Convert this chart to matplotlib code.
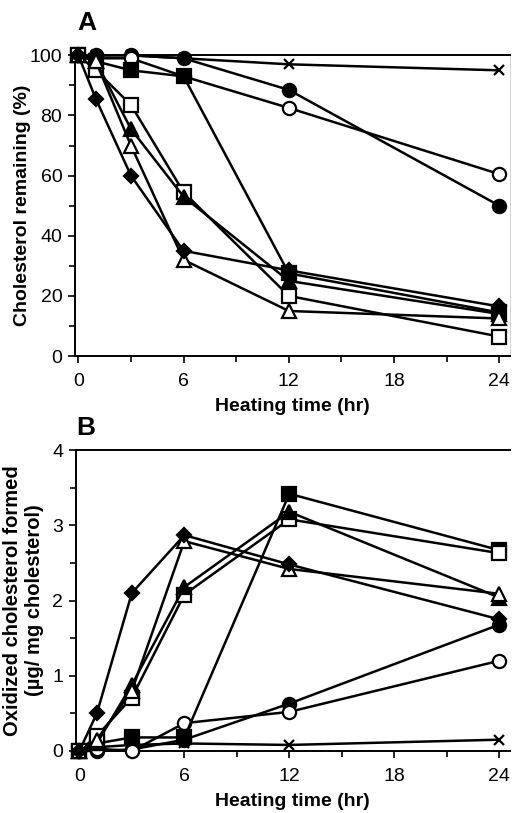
import matplotlib
matplotlib.use('Agg')
import matplotlib.pyplot as plt
from matplotlib.ticker import MultipleLocator

plt.rcParams['font.family'] = ['Liberation Sans', 'DejaVu Sans']

# heating times (hr)
hours = [0, 1, 3, 6, 12, 24]

# Panel A: cholesterol remaining (%)
a_cross = [100, 100, 100, 99, 97, 95]
a_fcircle = [100, 100, 100, 99, 88.5, 50]
a_ocircle = [100, 99, 99, 93, 82.5, 60.5]
a_fsquare = [100, 98, 95, 93, 27.5, 14.5]
a_osquare = [100, 95, 83.5, 54.5, 20, 6.5]
a_ftri = [100, 98, 75.5, 53, 25, 14]
a_otri = [100, 98, 70, 32, 15, 12.5]
a_fdiam = [100, 85.5, 60, 35, 28.5, 16.5]

# Panel B: oxidized cholesterol formed (ug / mg cholesterol)
b_cross = [0, 0.05, 0.08, 0.1, 0.08, 0.15]
b_fcircle = [0, 0, 0.02, 0.15, 0.63, 1.68]
b_ocircle = [0, 0.03, 0, 0.37, 0.52, 1.2]
b_fsquare = [0, 0.1, 0.18, 0.18, 3.42, 2.67]
b_osquare = [0, 0.2, 0.71, 2.08, 3.08, 2.63]
b_ftri = [0, 0.1, 0.88, 2.18, 3.18, 2.04]
b_otri = [0, 0.15, 0.8, 2.79, 2.42, 2.09]
b_fdiam = [0, 0.5, 2.1, 2.87, 2.48, 1.75]

# marker, fill, size for each series
styles = [('x', 'k', 6.5), ('o', 'k', 9.5), ('o', 'w', 9.5), ('s', 'k', 9.5),
          ('s', 'w', 9.5), ('^', 'k', 10.5), ('^', 'w', 10.5), ('D', 'k', 7)]

fig = plt.figure(figsize=(5.16, 8.13), dpi=100)
axA = fig.add_axes([0.145, 0.562, 0.843, 0.370])
axB = fig.add_axes([0.147, 0.0763, 0.841, 0.370])

seriesA = [a_cross, a_fcircle, a_ocircle, a_fsquare, a_osquare, a_ftri, a_otri, a_fdiam]
seriesB = [b_cross, b_fcircle, b_ocircle, b_fsquare, b_osquare, b_ftri, b_otri, b_fdiam]


def draw(ax, series):
    for vals, (m, fc, ms) in zip(series, styles):
        ax.plot(hours, vals, color='k', lw=1.8, marker=m, markersize=ms,
                markerfacecolor=fc, markeredgecolor='k', markeredgewidth=1.6,
                clip_on=False, zorder=3)
    ax.set_xlim(-0.2, 24.6)
    ax.xaxis.set_major_locator(MultipleLocator(6))
    ax.xaxis.set_minor_locator(MultipleLocator(3))
    for s in ['left', 'bottom', 'top']:
        ax.spines[s].set_linewidth(1.4)
    ax.tick_params(which='both', direction='out', width=1.2, labelsize=14, pad=4)
    ax.tick_params(axis='x', pad=7)
    ax.tick_params(which='major', length=5)
    ax.tick_params(which='minor', length=4)
    ax.set_xlabel('Heating time (hr)', fontsize=14, fontweight='bold', labelpad=6)


draw(axA, seriesA)
axA.spines['right'].set_color('#cccccc')
axA.spines['right'].set_linewidth(0.6)
axA.set_ylim(0, 100)
axA.yaxis.set_major_locator(MultipleLocator(20))
axA.yaxis.set_minor_locator(MultipleLocator(10))
axA.set_ylabel('Cholesterol remaining (%)', fontsize=14, fontweight='bold', labelpad=-1)
fig.text(0.149, 0.963, 'A', fontsize=19, fontweight='bold', ha='left', va='baseline')

draw(axB, seriesB)
axB.spines['right'].set_visible(False)
axB.set_ylim(0, 4)
axB.yaxis.set_major_locator(MultipleLocator(1))
axB.yaxis.set_minor_locator(MultipleLocator(0.5))
axB.set_ylabel('Oxidized cholesterol formed\n(\u00b5g/ mg cholesterol)', fontsize=14.5,
               fontweight='bold', labelpad=6, linespacing=1.2)
fig.text(0.147, 0.465, 'B', fontsize=19, fontweight='bold', ha='left', va='baseline')

fig.savefig('out.png', dpi=100)
